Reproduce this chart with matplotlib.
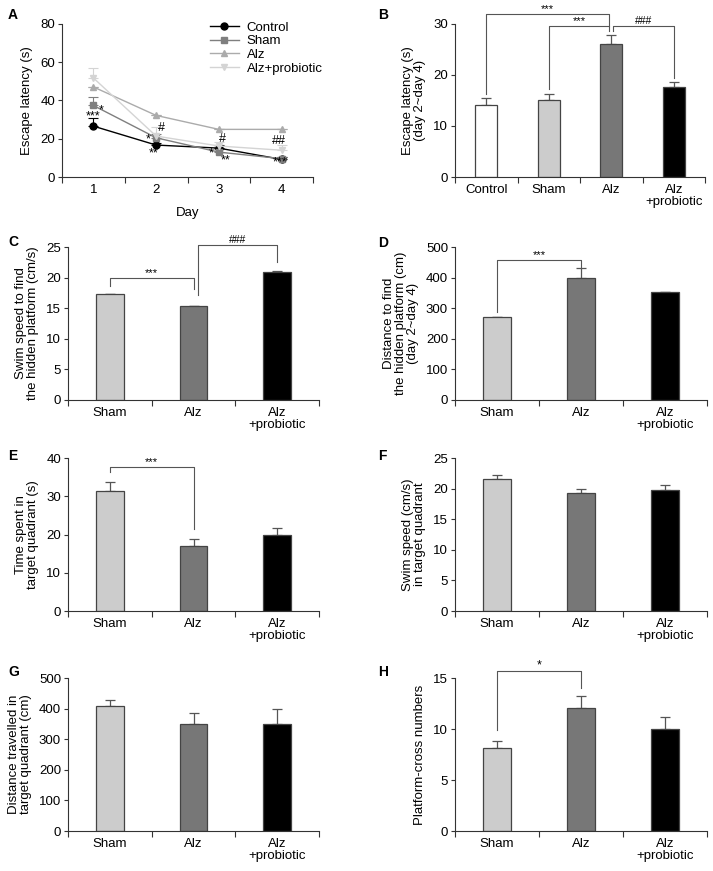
import numpy as np
import matplotlib
matplotlib.use('Agg')
import matplotlib.pyplot as plt

plt.rcParams['font.family'] = ['Liberation Sans', 'DejaVu Sans']
plt.rcParams['font.size'] = 9.5

# ---- data ----
days = [1, 2, 3, 4]
line_groups = ['Control', 'Sham', 'Alz', 'Alz+probiotic']
latency = {
    'Control': [26.6, 16.7, 15.1, 9.2],
    'Sham': [37.4, 20.5, 13.0, 9.6],
    'Alz': [47.1, 32.2, 24.9, 24.9],
    'Alz+probiotic': [51.8, 21.4, 16.2, 14.0],
}
latency_err = {
    'Control': [4.3, 1.0, 1.5, 1.0],
    'Sham': [4.6, 2.0, 1.5, 1.0],
    'Alz': [0.0, 0.0, 0.0, 0.0],
    'Alz+probiotic': [5.4, 4.6, 2.0, 2.5],
}
# (text, day position, value)
a_marks = [('***', 0.99, 31.5), ('*', 1.12, 35.0),
           ('*', 1.87, 19.8), ('#', 2.08, 25.8), ('**', 1.96, 12.5),
           ('*', 2.87, 12.5), ('#', 3.05, 19.8), ('**', 3.1, 8.5),
           ('##', 3.96, 18.6), ('***', 3.98, 7.8)]

b_groups = ['Control', 'Sham', 'Alz', 'Alz\n+probiotic']
b_vals = [14.2, 15.0, 26.1, 17.6]
b_err = [1.2, 1.3, 1.8, 1.1]

groups3 = ['Sham', 'Alz', 'Alz\n+probiotic']
c_vals = [17.3, 15.3, 20.9]
c_err = [0.1, 0.1, 0.1]
d_vals = [272, 398, 352]
d_err = [0, 34, 0]
e_vals = [31.3, 17.1, 19.9]
e_err = [2.3, 1.8, 1.7]
f_vals = [21.5, 19.3, 19.7]
f_err = [0.7, 0.6, 0.9]
g_vals = [408, 350, 350]
g_err = [20, 35, 50]
h_vals = [8.1, 12.1, 10.0]
h_err = [0.7, 1.1, 1.2]

line_style = {
    'Control': dict(color='#000000', marker='o', ms=5),
    'Sham': dict(color='#7f7f7f', marker='s', ms=4.5),
    'Alz': dict(color='#ababab', marker='^', ms=5),
    'Alz+probiotic': dict(color='#d4d4d4', marker='v', ms=5),
}
colors4 = ['#ffffff', '#cccccc', '#777777', '#000000']
colors3 = ['#cccccc', '#777777', '#000000']
spine_c = '#333333'


def style_axes(ax, n, labels):
    for s in ['top', 'right']:
        ax.spines[s].set_visible(False)
    for s in ['left', 'bottom']:
        ax.spines[s].set_color(spine_c)
        ax.spines[s].set_linewidth(0.8)
    ax.set_xlim(-0.5, n - 0.5)
    ax.set_xticks(np.arange(-0.5, n, 1.0))
    ax.set_xticklabels([])
    ax.set_xticks(np.arange(n), minor=True)
    ax.set_xticklabels(labels, minor=True, linespacing=1.0)
    ax.tick_params(axis='x', which='minor', length=0, pad=5)
    ax.tick_params(axis='x', which='major', length=4, color=spine_c, width=0.8)
    ax.tick_params(axis='y', length=3, color=spine_c, width=0.8, pad=2)


def bar_panel(ax, labels, vals, err, colors, ylim, yticks, ylabel):
    x = np.arange(len(vals))
    w = 0.33 if len(vals) == 3 else 0.35
    ax.bar(x, vals, width=w, color=colors, edgecolor='#444444', linewidth=0.9, zorder=2)
    ax.errorbar(x, vals, yerr=[np.zeros(len(err)), err], fmt='none', ecolor='#555555',
                elinewidth=0.9, capsize=3.5, capthick=0.9, zorder=1)
    style_axes(ax, len(vals), labels)
    ax.set_ylim(*ylim)
    ax.set_yticks(yticks)
    ax.set_ylabel(ylabel, linespacing=1.0, labelpad=5)


def bracket(ax, x1, x2, y, y1, y2, txt, fs=8.5):
    ax.plot([x1, x1, x2, x2], [y1, y, y, y2], color='#555555', lw=0.8, clip_on=False)
    ax.text((x1 + x2) / 2, y, txt, ha='center', va='bottom', fontsize=fs, clip_on=False)


fig = plt.figure(figsize=(7.13, 8.71), dpi=100)

W, H = 713, 871


def add_ax(left, right, bottom, top):
    return fig.add_axes([left / W, 1 - bottom / H, (right - left) / W, (bottom - top) / H])


# ---- A ----
axA = add_ax(62, 313, 177, 24)
for g in line_groups:
    st = line_style[g]
    axA.errorbar(np.arange(4), latency[g], yerr=[np.zeros(4), latency_err[g]],
                 color=st['color'], marker=st['marker'], ms=st['ms'], lw=1.0,
                 elinewidth=0.8, capsize=3.5, capthick=0.8, label=g)
for t, dx, v in a_marks:
    axA.text(dx - 1, v, t, ha='center', va='center', fontsize=9)
style_axes(axA, 4, [str(d) for d in days])
axA.set_ylim(0, 80)
axA.set_yticks([0, 20, 40, 60, 80])
axA.set_ylabel('Escape latency (s)', labelpad=5)
axA.set_xlabel('Day', labelpad=8)
handles, labs = axA.get_legend_handles_labels()
axA.legend([h[0] for h in handles], labs, loc='upper right', frameon=False,
           handlelength=2.2, fontsize=9.5, borderaxespad=0.0,
           bbox_to_anchor=(1.06, 1.05), labelspacing=0.1, handletextpad=0.6)

# ---- B ----
axB = add_ax(455, 705, 177, 24)
bar_panel(axB, b_groups, b_vals, b_err, colors4, (0, 30), [0, 10, 20, 30],
          'Escape latency (s)\n(day 2~day 4)')
bracket(axB, 0, 1.97, 31.9, 16.2, 29.7, '***', 8)
bracket(axB, 1, 1.97, 29.6, 17.2, 28.7, '***', 8)
bracket(axB, 2.03, 3, 29.6, 28.7, 19.5, '###', 7.5)

# ---- C ----
axC = add_ax(68, 319, 400, 247)
bar_panel(axC, groups3, c_vals, c_err, colors3, (0, 25), [0, 5, 10, 15, 20, 25],
          'Swim speed to find\nthe hidden platform (cm/s)')
bracket(axC, 0, 1, 19.9, 18.6, 18.1, '***', 8)
bracket(axC, 1.05, 2, 25.4, 17.2, 22.6, '###', 7.5)

# ---- D ----
axD = add_ax(455, 707, 400, 247)
bar_panel(axD, groups3, d_vals, d_err, colors3, (0, 500), [0, 100, 200, 300, 400, 500],
          'Distance to find\nthe hidden platform (cm)\n(day 2~day 4)')
bracket(axD, 0, 1, 456, 287, 432, '***', 8)

# ---- E ----
axE = add_ax(68, 319, 611, 458)
bar_panel(axE, groups3, e_vals, e_err, colors3, (0, 40), [0, 10, 20, 30, 40],
          'Time spent in\ntarget quadrant (s)')
bracket(axE, 0, 1, 37.6, 36.3, 21.5, '***', 8)

# ---- F ----
axF = add_ax(455, 707, 611, 458)
bar_panel(axF, groups3, f_vals, f_err, colors3, (0, 25), [0, 5, 10, 15, 20, 25],
          'Swim speed (cm/s)\nin target quadrant')

# ---- G ----
axG = add_ax(68, 319, 831, 678)
bar_panel(axG, groups3, g_vals, g_err, colors3, (0, 500), [0, 100, 200, 300, 400, 500],
          'Distance travelled in\ntarget quadrant (cm)')

# ---- H ----
axH = add_ax(455, 707, 831, 678)
bar_panel(axH, groups3, h_vals, h_err, colors3, (0, 15), [0, 5, 10, 15],
          'Platform-cross numbers')
bracket(axH, 0, 1, 15.65, 9.9, 14.0, '*', 9)

# panel letters
for letter, px, py in [('A', 8, 15), ('B', 378, 15), ('C', 8, 242), ('D', 378, 243),
                       ('E', 8, 456), ('F', 378, 456), ('G', 8, 672), ('H', 378, 672)]:
    fig.text(px / W, 1 - py / H, letter, fontsize=10, fontweight='bold', va='center', ha='left')

fig.savefig('out.png', dpi=100)
